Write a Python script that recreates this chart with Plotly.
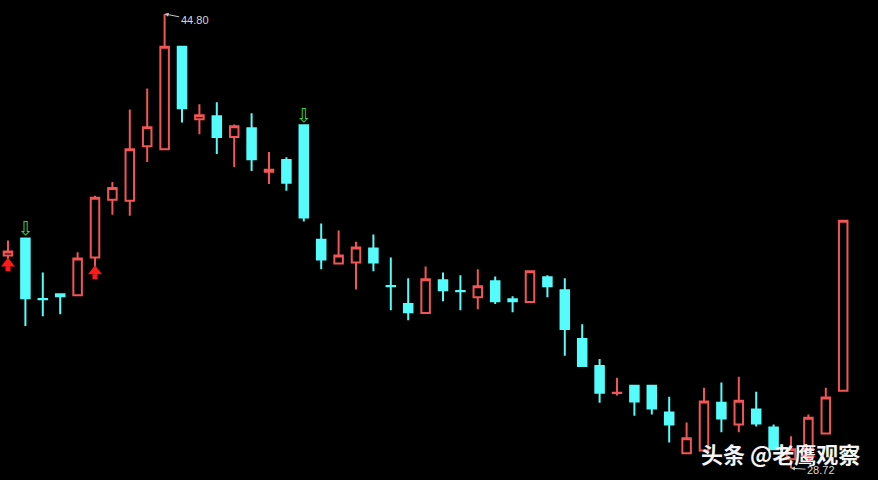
import plotly.graph_objects as go

# OHLC values (price units)
opens = [36.25, 36.85, 34.71, 34.88, 34.84, 36.18, 38.22, 38.19, 40.12, 40.01,
         43.64, 41.07, 41.18, 40.44, 40.75, 39.21, 39.63, 40.86, 36.81, 35.97,
         36.00, 36.50, 35.17, 34.53, 34.21, 35.37, 34.99, 34.77, 35.34, 34.70,
         34.60, 35.48, 35.02, 33.29, 32.34, 31.38, 31.64, 31.64, 30.69, 29.25,
         29.35, 31.04, 30.27, 30.80, 30.16, 29.04, 29.39, 29.95, 31.46]
highs = [36.78, 36.85, 35.65, 34.91, 36.36, 38.36, 38.85, 41.42, 42.16, 44.80,
         43.64, 41.60, 41.67, 40.89, 41.28, 39.91, 39.73, 40.86, 37.38, 37.13,
         36.74, 36.99, 36.18, 35.44, 35.86, 35.65, 35.55, 35.76, 35.51, 34.81,
         35.72, 35.55, 35.44, 33.82, 32.59, 31.92, 31.64, 31.64, 31.25, 30.34,
         31.57, 31.75, 31.96, 31.43, 30.27, 29.85, 30.62, 31.57, 37.48]
lows = [36.14, 33.75, 34.10, 34.17, 34.84, 35.86, 37.69, 37.66, 39.56, 40.01,
        40.96, 40.54, 39.84, 39.38, 39.24, 38.78, 38.54, 37.45, 35.76, 35.97,
        35.05, 35.69, 34.31, 33.96, 34.21, 34.63, 34.31, 34.35, 34.53, 34.24,
        34.60, 34.77, 32.70, 32.31, 31.04, 31.29, 30.58, 30.62, 29.63, 29.25,
        29.35, 29.99, 29.99, 30.20, 29.39, 28.72, 29.39, 29.95, 31.46]
closes = [36.39, 34.74, 34.70, 34.81, 36.14, 38.29, 38.64, 40.01, 40.79, 43.64,
          41.46, 41.21, 40.44, 40.82, 39.66, 39.28, 38.82, 37.59, 36.11, 36.25,
          36.53, 36.00, 35.16, 34.24, 35.41, 35.02, 34.98, 35.16, 34.63, 34.63,
          35.69, 35.16, 33.65, 32.34, 31.39, 31.39, 31.08, 30.83, 30.27, 29.78,
          31.08, 30.48, 31.11, 30.30, 29.39, 29.39, 30.51, 31.22, 37.48]

buy_signals = [0, 5, 46]
sell_signals = [1, 17]

watermark = "头条 @老鹰观察"

RED = "#F25555"
CYAN = "#54FCFC"

x = list(range(len(opens)))

fig = go.Figure()
fig.add_trace(go.Candlestick(
    x=x, open=opens, high=highs, low=lows, close=closes,
    increasing=dict(line=dict(color=RED, width=2), fillcolor="black"),
    decreasing=dict(line=dict(color=CYAN, width=2), fillcolor=CYAN),
    whiskerwidth=0, showlegend=False,
))

# buy signal: filled red arrow (head + stem)
fig.add_trace(go.Scatter(
    x=buy_signals, y=[lows[i] - 0.17 for i in buy_signals],
    mode="markers", marker=dict(symbol="triangle-up", size=12, color="#FF1A1A", line=dict(width=0)),
    showlegend=False, hoverinfo="skip",
))
fig.add_trace(go.Scatter(
    x=buy_signals, y=[lows[i] - 0.36 for i in buy_signals],
    mode="markers", marker=dict(symbol="square", size=5, color="#FF1A1A", line=dict(width=0)),
    showlegend=False, hoverinfo="skip",
))
# sell signal: hollow green arrow
fig.add_trace(go.Scatter(
    x=sell_signals, y=[highs[i] + 0.29 for i in sell_signals],
    mode="text", text=["⇩"] * len(sell_signals),
    textfont=dict(color="#3CD43C", size=19, family="DejaVu Sans"),
    textposition="middle center", showlegend=False, hoverinfo="skip",
))

imax = max(range(len(highs)), key=lambda i: highs[i])
imin = min(range(len(lows)), key=lambda i: lows[i])
fig.add_annotation(x=imax, y=highs[imax], text=f"{highs[imax]:.2f}", showarrow=True,
                   ax=30, ay=6, arrowhead=2, arrowsize=0.8, arrowwidth=1,
                   arrowcolor="#C8C8C8", standoff=0,
                   font=dict(color="#D8D8D8", size=11, family="Liberation Sans"))
fig.add_annotation(x=imin, y=lows[imin], text=f"{lows[imin]:.2f}", showarrow=True,
                   ax=30, ay=2, arrowhead=2, arrowsize=0.8, arrowwidth=1,
                   arrowcolor="#C8C8C8", standoff=0,
                   font=dict(color="#D8D8D8", size=11, family="Liberation Sans"))

fig.add_annotation(xref="paper", yref="paper", x=0.8895, y=0.057,
                   text="<b>" + watermark + "</b>", showarrow=False,
                   xanchor="center", yanchor="middle",
                   font=dict(color="#F4F4F4", size=22, family="Noto Sans CJK SC"))

fig.update_layout(
    width=878, height=480,
    margin=dict(l=0, r=0, t=0, b=0),
    paper_bgcolor="black", plot_bgcolor="black",
    xaxis=dict(range=[-0.46, 50.0], visible=False, rangeslider=dict(visible=False)),
    yaxis=dict(range=[28.3033, 45.2926], visible=False),
    showlegend=False,
)

fig.write_html(
    "out.html",
    config={"displayModeBar": False},
    post_script="document.body.style.margin='0';document.body.style.background='black';",
)
